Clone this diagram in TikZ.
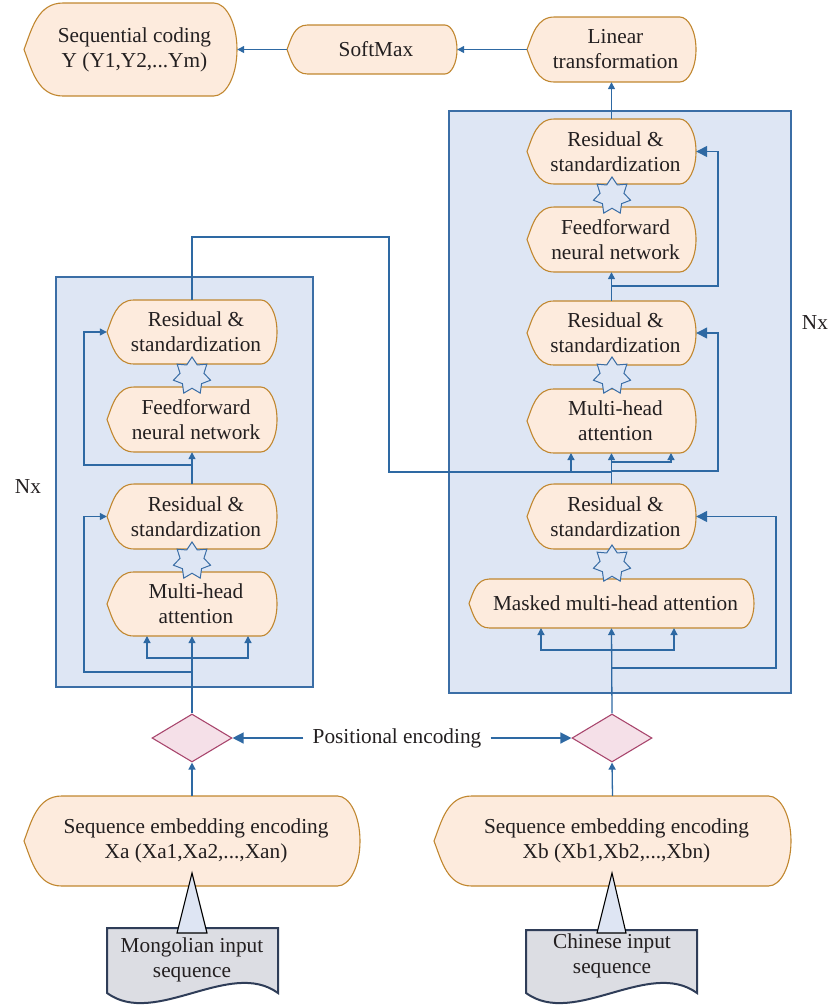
\documentclass[tikz,border=0pt]{standalone}
\usepackage{fontspec}
\setmainfont{Liberation Serif}
\usetikzlibrary{arrows.meta,shapes.geometric}
\definecolor{peach}{HTML}{FDEBDD}
\definecolor{peachb}{HTML}{C1872F}
\definecolor{lblue}{HTML}{2E69A3}
\definecolor{boxf}{HTML}{DEE6F4}
\definecolor{boxb}{HTML}{3B6EA6}
\definecolor{diaf}{HTML}{F5E0E8}
\definecolor{diab}{HTML}{A9476E}
\definecolor{docf}{HTML}{DCDDE3}
\definecolor{docb}{HTML}{2F3D58}
\definecolor{trif}{HTML}{DEE5F3}
\definecolor{txt}{HTML}{231F20}
\tikzset{
  dispshape/.style={fill=peach,draw=peachb,line width=1.1pt},
  disptext/.style={inner sep=0pt,align=center,text=txt,font=\fontsize{21.3}{25}\selectfont},
  conn/.style={draw=lblue,line width=1.3pt},
  arr/.style={conn,-{Triangle[length=7pt,width=7pt]}},
  bigarr/.style={conn,-{Triangle[length=11pt,width=11pt]}},
  stack/.style={fill=boxf,draw=boxb,line width=1.1pt},
  starn/.style={star,star points=7,star point ratio=1.55,minimum size=38pt,inner sep=0pt,fill=boxf,draw=boxb,line width=1pt},
  dia/.style={diamond,aspect=1.67,minimum width=80pt,minimum height=48pt,inner sep=0pt,fill=diaf,draw=diab,line width=1.1pt},
  docshape/.style={fill=docf,draw=docb,line width=2pt},
  tri/.style={fill=trif,draw=black,line width=1.1pt},
  plain/.style={text=txt,font=\fontsize{21.3}{25}\selectfont,align=center,inner sep=0pt}
}
\newcommand\disp[6]{%
  \pgfmathsetmacro\dh{#5-#3}%
  \pgfmathsetmacro\dw{#4-#2}%
  \pgfmathsetmacro\cl{0.42*\dh}%
  \pgfmathsetmacro\cre{0.25*\dh}%
  \pgfmathsetmacro\ym{(#3+#5)/2}%
  \pgfmathsetmacro\xl{#2+\cl}%
  \pgfmathsetmacro\xr{#4-\cre}%
  \pgfmathsetmacro\xc{(#2+#4)/2}%
  \draw[dispshape] (\xl,#3) -- (\xr,#3)
     .. controls ({\xr+0.55*\cre},#3) and (#4,{\ym-0.275*\dh}) .. (#4,\ym)
     .. controls (#4,{\ym+0.275*\dh}) and ({\xr+0.55*\cre},#5) .. (\xr,#5)
     -- (\xl,#5)
     .. controls ({\xl-0.65*\cl},#5) and ({#2+0.2*\cl},{\ym+0.22*\dh}) .. (#2,\ym)
     .. controls ({#2+0.2*\cl},{\ym-0.22*\dh}) and ({\xl-0.65*\cl},#3) .. cycle;
  \node[disptext,minimum width=\dw pt,minimum height=\dh pt] (#1) at (\xc,\ym) {};
  \node[disptext] (#1-t) at ({\xc+4},\ym) {#6};
}
\begin{document}
\begin{tikzpicture}[x=1pt,y=-1pt]
\useasboundingbox (0,0) rectangle (833,1007);
% stacks
\draw[stack] (56,277) rectangle (313,687);
\draw[stack] (449,111) rectangle (791,693);
% top row
\disp{seq}{24}{3}{237}{96}{Sequential coding\\Y (Y1,Y2,...Ym)}
\disp{soft}{287}{25}{457}{74}{SoftMax}
\disp{lin}{527}{17}{696}{82}{Linear\\transformation}
% left column
\disp{lrb}{107}{300}{277}{364}{Residual \&\\standardization}
\disp{lff}{107}{387}{277}{452}{Feedforward\\neural network}
\disp{lra}{107}{484}{277}{549}{Residual \&\\standardization}
\disp{lmh}{107}{572}{277}{636}{Multi-head\\attention}
% right column
\disp{rrc}{527}{119}{696}{184}{Residual \&\\standardization}
\disp{rff}{527}{207}{696}{272}{Feedforward\\neural network}
\disp{rrb}{527}{301}{696}{365}{Residual \&\\standardization}
\disp{rmh}{527}{389}{696}{453}{Multi-head\\attention}
\disp{rra}{527}{484}{696}{549}{Residual \&\\standardization}
\disp{rmm}{469}{579}{754}{628}{Masked multi-head attention}
% bottom
\disp{lemb}{24}{796}{360}{886}{Sequence embedding encoding\\Xa (Xa1,Xa2,...,Xan)}
\disp{remb}{434}{796}{791}{886}{Sequence embedding encoding\\Xb (Xb1,Xb2,...,Xbn)}
% stars
\node[starn] (s1) at (192,376) {};
\node[starn] (s2) at (192,561) {};
\node[starn] (s3) at (612,196) {};
\node[starn] (s4) at (612,376) {};
\node[starn] (s5) at (612,564) {};
% diamonds
\node[dia] (ld) at (192,738) {};
\node[dia] (rd) at (612,738) {};
\node[plain,inner xsep=9pt] (pos) at (397,738) {Positional encoding};
% labels
\node[plain] (nxl) at (28,487) {Nx};
\node[plain] (nxr) at (815,323) {Nx};
% documents
\draw[docshape] (107,928) -- (278,928) -- (278,993)
  .. controls (230,958) and (155,1028) .. (107,993) -- cycle;
\node[plain] (ldoc) at (192,960) {Mongolian input\\sequence};
\draw[docshape] (526,930) -- (697,930) -- (697,993)
  .. controls (649,958) and (574,1028) .. (526,993) -- cycle;
\node[plain] (rdoc) at (612,956) {Chinese input\\sequence};
% triangles
\draw[tri] (192,873) -- (207,933) -- (177,933) -- cycle;
\draw[tri] (612,873) -- (626,933) -- (597,933) -- cycle;
% connectors top
\draw[arr] (lin.west) -- (soft.east);
\draw[arr] (soft.west) -- (seq.east);
\draw[arr] (rrc.north) -- (lin.south);
% bottom
\draw[arr] (lemb.north) -- (ld.south);
\draw[arr] (remb.north) -- (rd.south);
\draw[bigarr] (pos.west) -- (ld.east);
\draw[bigarr] (pos.east) -- (rd.west);
% left stack
\draw[arr] (ld.north) -- (lmh.south);
\draw[arr] (192,658) -- (147,658) -- (147,636);
\draw[arr] (192,658) -- (248,658) -- (248,636);
\draw[arr] (192,672) -- (84,672) |- (lra.west);
\draw[arr] (lra.north) -- (lff.south);
\draw[arr] (192,465) -- (84,465) |- (lrb.west);
\draw[conn] (lrb.north) -- (192,237) -- (389,237) -- (389,472) -- (612,472);
\draw[arr] (571,472) -- (571,453);
% right stack
\draw[arr] (rd.north) -- (rmm.south);
\draw[arr] (612,650) -- (541,650) -- (541,628);
\draw[arr] (612,650) -- (674,650) -- (674,628);
\draw[bigarr] (612,668) -- (776,668) |- (rra.east);
\draw[arr] (rra.north) -- (rmh.south);
\draw[arr] (612,462) -- (671,462) -- (671,453);
\draw[bigarr] (612,471) -- (718,471) |- (rrb.east);
\draw[arr] (rrb.north) -- (rff.south);
\draw[bigarr] (612,286) -- (718,286) |- (rrc.east);
\end{tikzpicture}
\end{document}
